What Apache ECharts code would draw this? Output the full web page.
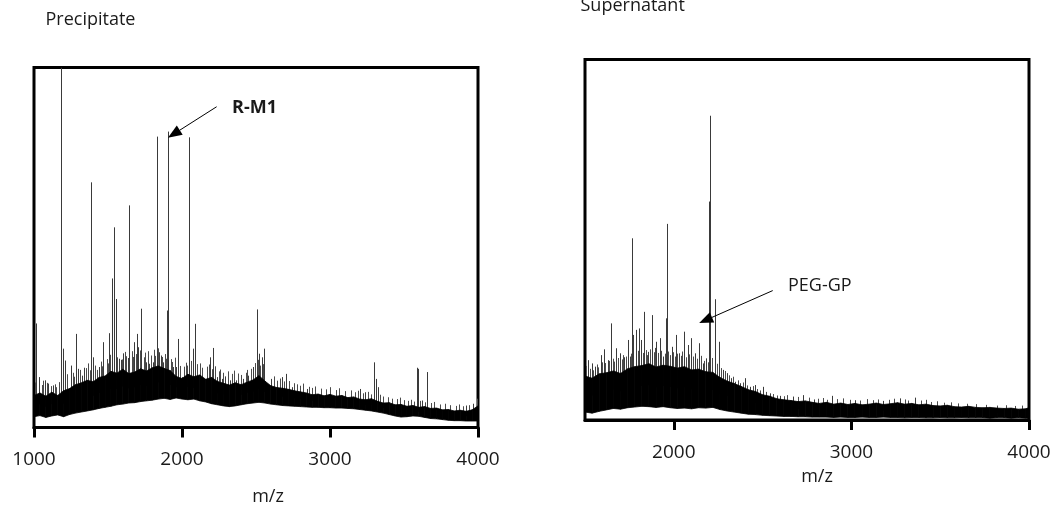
<!DOCTYPE html>
<html>
<head>
<meta charset="utf-8">
<script src="https://cdn.jsdelivr.net/npm/echarts@6/dist/echarts.min.js"></script>
<style>
  html, body { margin: 0; padding: 0; background: #fff; }
  #chart { width: 1054px; height: 512px; }
</style>
</head>
<body>
<div id="chart"></div>
<script>
// MALDI-TOF mass spectra of the precipitate and supernatant fractions (relative intensity, 0-100)

const precipitateTicks = [1000, 2000, 3000, 4000];
const supernatantTicks = [2000, 3000, 4000];

// Noise band of the precipitate spectrum: m/z grid with lower and upper edge of the band
const precipitateBandMz = [1000,1040,1080,1120,1160,1200,1240,1280,1320,1360,1400,1440,1480,1520,1560,1600,1640,1680,1720,1760,1800,1840,1880,1920,1960,2000,2040,2080,2120,2160,2200,2240,2280,2320,2360,2400,2440,2480,2520,2560,2600,2640,2680,2720,2760,2800,2840,2880,2920,2960,3000,3040,3080,3120,3160,3200,3240,3280,3320,3360,3400,3440,3480,3520,3560,3600,3640,3680,3720,3760,3800,3840,3880,3920,3960,4000];
const precipitateBandLow = [3.0,3.3,2.8,3.2,3.5,3.0,3.6,4.0,4.3,4.6, 4.9,5.3,5.6,5.9,6.3,6.5,6.8,6.9,7.2,7.4, 7.6,7.9,8.1,7.8,8.2,7.9,7.7,7.9,7.4,7.1, 6.6,6.3,6.0,5.8,6.0,6.3,6.6,6.8,7.0,6.8, 6.5,6.3,6.1,6.0,5.9,5.8,5.7,5.6,5.6,5.5, 5.5,5.4,5.4,5.3,5.2,5.0,4.8,4.6,4.3,4.0, 3.6,3.2,2.9,3.0,3.2,3.1,2.8,2.5,2.4,2.2, 2.0,1.9,1.9,1.8,1.8,1.8];
const precipitateBandHigh = [8.9,9.6,8.7,9.8,8.9,10.2,10.8,11.9,12.4,13.1, 12.7,13.9,14.3,15.6,15.1,16.2,15.0,15.4,16.3,15.7, 16.6,17.1,16.4,15.8,14.2,13.6,14.8,14.1,14.6,13.4, 13.9,12.8,12.3,11.8,12.4,11.9,12.6,13.2,14.4,12.9, 11.6,11.1,10.9,10.6,10.2,9.9,9.6,9.1,9.3,8.8, 9.2,8.7,8.9,8.3,8.5,7.9,7.7,8.0,7.3,6.8, 6.9,6.3,6.4,5.9,6.1,5.6,5.8,5.3,5.4,4.9, 5.0,4.6,4.8,4.5,4.9,6.0];

// Resolved peaks of the precipitate spectrum [m/z, intensity]
const precipitatePeaks = [[1016,28.9],[1182,100],[1281,26.0],[1388,68.1],[1525,41.4],[1540,55.6],[1554,35.7],[1640,56.7],[1644,61.7],[1723,33.0],[1829,80.8],[1899,32.5],[1903,82.2],[1971,24.6],[2049,80.6],[2088,28.8],[2504,32.8]];
const precipitateMinorPeaks = [[1034,14.0],[1074,13.1],[1097,12.2],[1126,11.7],[1198,21.9],[1209,18.6],[1248,17.2],[1299,16.3],[1326,14.4],[1340,16.6],[1401,19.5],[1437,16.8],[1468,23.7],[1507,26.2],[1572,19.1],[1585,18.8],[1603,20.6],[1633,19.3],[1678,23.7],[1693,26.0],[1705,22.3],[1757,18.1],[1777,17.7],[1802,18.1],[1847,20.9],[1856,20.0],[1874,18.1],[1919,15.8],[1941,16.8],[1957,16.8],[1998,14.0],[2072,21.9],[2110,14.0],[2144,13.5],[2189,19.5],[2211,22.1],[2234,14.0],[2268,13.5],[2290,14.2],[2324,13.1],[2365,13.1],[2414,13.5],[2448,14.4],[2480,16.8],[2522,20.5],[2538,19.5],[2556,21.9],[2599,13.5],[2678,14.0],[2703,14.9],[2741,11.2],[2842,10.7],[3203,10.7],[3236,9.8],[3297,18.1],[3308,13.5],[3322,11.2],[3586,16.6],[3592,16.3],[3619,7.5],[3657,15.4],[3919,6.1],[3968,6.6]];
// Unresolved noise spikes just above the band
const precipitateNoiseSpikes = [[1008,12.5],[1052,11.8],[1062,13.0],[1088,12.4],[1112,11.5],[1140,12.0],[1152,11.2],[1170,12.6],[1226,14.8],[1262,15.2],[1272,14.1],[1312,16.0],[1352,16.5],[1365,17.8],[1378,15.9],[1414,17.2],[1425,16.0],[1452,18.3],[1460,17.0],[1490,19.0],[1498,17.8],[1516,20.2],[1564,19.5],[1596,18.9],[1612,21.0],[1622,19.8],[1660,21.2],[1668,19.6],[1686,20.4],[1714,21.4],[1740,19.5],[1748,20.8],[1768,21.2],[1790,20.0],[1812,21.6],[1820,19.9],[1838,22.0],[1866,19.6],[1884,20.4],[1892,19.1],[1928,19.0],[1935,18.2],[1950,19.4],[1984,17.1],[2012,16.9],[2024,18.0],[2036,17.2],[2060,18.5],[2098,17.6],[2124,17.8],[2134,16.6],[2170,16.9],[2180,17.5],[2200,16.2],[2222,17.0],[2250,15.6],[2258,16.1],[2280,15.2],[2310,15.6],[2340,14.9],[2350,15.8],[2380,15.0],[2396,14.6],[2430,15.2],[2440,16.0],[2466,16.3],[2492,17.9],[2512,18.8],[2530,17.2],[2548,17.6],[2620,14.2],[2640,13.0],[2660,13.6],[2690,12.8],[2720,12.9],[2760,12.3],[2780,12.0],[2800,11.6],[2820,12.2],[2860,11.3],[2880,11.0],[2900,11.4],[2940,10.8],[2970,10.6],[3000,11.2],[3040,10.4],[3060,10.9],[3100,10.1],[3140,10.3],[3170,9.8],[3190,10.2],[3220,9.5],[3260,9.9],[3280,9.2],[3340,9.1],[3360,8.6],[3390,8.4],[3420,8.0],[3450,7.9],[3470,8.3],[3500,7.6],[3530,7.4],[3550,7.7],[3570,7.2],[3610,7.4],[3640,7.0],[3680,6.8],[3700,7.1],[3740,6.4],[3780,6.6],[3810,6.2],[3850,6.0],[3870,6.4],[3900,5.9],[3940,6.2],[3990,8.0]];

// Noise band of the supernatant spectrum
const supernatantBandMz = [1500,1540,1580,1620,1660,1700,1740,1780,1820,1860,1900,1940,1980,2020,2060,2100,2140,2180,2220,2260,2300,2340,2380,2420,2460,2500,2540,2580,2620,2660,2700,2740,2780,2820,2860,2900,2940,2980,3020,3060,3100,3140,3180,3220,3260,3300,3340,3380,3420,3460,3500,3540,3580,3620,3660,3700,3740,3780,3820,3860,3900,3940,3980,4000];
const supernatantBandLow = [2.2,1.9,2.4,2.8,3.2,3.0,3.4,3.6,3.8,3.7, 3.5,3.7,3.4,3.2,3.3,3.1,3.4,3.3,3.5,2.9, 2.5,2.2,1.9,1.6,1.5,1.3,1.2,1.1,1.0,1.0, 0.9,0.9,0.8,0.8,0.8,0.7,0.8,0.7,0.7,0.8, 0.7,0.7,0.8,0.7,0.7,0.6,0.7,0.7,0.6,0.6, 0.7,0.6,0.6,0.7,0.6,0.6,0.6,0.5,0.6,0.6, 0.5,0.6,0.5,0.5];
const supernatantBandHigh = [12.2,11.6,12.8,13.1,13.6,12.9,14.2,14.8,15.1,15.6, 14.7,15.2,14.9,14.4,14.8,13.9,14.1,13.4,13.2,11.8, 10.8,10.1,9.3,8.4,7.9,7.0,6.6,5.9,5.6,5.4, 5.1,5.3,4.9,4.6,4.9,4.4,4.7,4.3,4.6,4.2, 4.4,4.7,4.3,4.5,4.8,4.4,4.6,4.2,4.4,4.0, 3.9,4.1,3.7,3.6,3.8,3.5,3.4,3.5,3.3,3.2, 3.3,3.0,3.1,3.4];

// Resolved peaks of the supernatant spectrum [m/z, intensity]
const supernatantPeaks = [[1648,26.8],[1766,50.4],[1956,28.2],[1960,54.4],[2198,60.6],[2204,84.4],[2232,33.5]];
const supernatantMinorPeaks = [[1519,16.6],[1538,15.7],[1556,14.8],[1588,18.0],[1607,19.6],[1628,16.6],[1675,19.9],[1697,18.5],[1722,17.4],[1744,22.2],[1753,17.6],[1772,23.6],[1787,25.0],[1804,25.4],[1815,22.2],[1832,30.0],[1857,18.9],[1877,29.1],[1900,21.7],[1922,22.7],[1941,17.6],[1988,20.3],[2012,23.6],[2031,18.5],[2057,24.5],[2078,20.8],[2099,22.7],[2119,18.5],[2142,21.3],[2163,15.7],[2181,17.1],[2256,21.7],[2279,13.9],[2298,13.0],[2320,11.6],[2345,10.6],[2373,10.2],[2401,11.6],[2429,9.2],[2457,9.7],[2500,9.2],[2542,7.4],[2598,6.7],[2673,6.5],[2729,6.9],[2789,5.7],[2889,6.7],[3020,5.5],[3179,5.3],[3274,6.0],[3358,6.2]];
const supernatantNoiseSpikes = [[1508,15.0],[1526,14.2],[1546,13.8],[1566,15.4],[1576,14.6],[1596,16.0],[1614,15.8],[1636,16.4],[1656,17.0],[1666,16.2],[1684,17.2],[1706,16.8],[1714,18.0],[1732,17.6],[1760,18.4],[1796,19.2],[1824,18.6],[1842,19.4],[1850,18.0],[1866,19.6],[1886,18.8],[1892,20.0],[1910,18.6],[1930,19.2],[1948,18.4],[1970,19.0],[1980,18.0],[1996,18.8],[2004,17.6],[2020,18.4],[2040,17.8],[2048,19.0],[2066,17.4],[2086,18.2],[2108,17.6],[2130,17.0],[2152,17.8],[2172,16.4],[2190,16.0],[2214,17.2],[2244,15.6],[2268,14.4],[2288,13.6],[2310,12.4],[2332,12.0],[2360,11.0],[2388,10.4],[2414,9.6],[2444,9.4],[2470,8.6],[2488,8.2],[2520,7.8],[2560,7.2],[2580,6.8],[2620,6.6],[2640,6.9],[2700,6.4],[2760,6.2],[2810,5.9],[2840,6.1],[2860,5.6],[2920,5.8],[2950,6.0],[2990,5.6],[3050,5.4],[3090,5.8],[3120,5.5],[3150,5.7],[3210,5.6],[3240,5.9],[3300,5.7],[3320,5.4],[3390,5.4],[3420,5.6],[3450,5.0],[3480,5.2],[3520,4.8],[3560,4.9],[3600,4.6],[3650,4.5],[3700,4.4],[3760,4.2],[3820,4.0],[3870,4.1],[3920,3.9],[3960,4.0]];

// Annotated species: arrow tail and arrow tip in [m/z, intensity]
const precipitateArrow = { label: 'R-M1', from: [2234, 89.1], to: [1905, 80.5] };
const supernatantArrow = { label: 'PEG-GP', from: [2557, 35.9], to: [2143, 26.9] };

const FONT = '"Open Sans", sans-serif';
const INK = '#1a1a1a';

// One quad of the noise band between two neighbouring grid points
function bandPiece(params, api) {
  const a0 = api.coord([api.value(0), api.value(1)]);
  const a1 = api.coord([api.value(0), api.value(2)]);
  const b0 = api.coord([api.value(3), api.value(4)]);
  const b1 = api.coord([api.value(3), api.value(5)]);
  return {
    type: 'polygon',
    shape: { points: [a0, a1, b1, b0] },
    style: { fill: '#000', stroke: '#000', lineWidth: 0.8 }
  };
}

// A peak: vertical stick from inside the noise band up to its intensity
function stickRenderer(color) {
  return function (params, api) {
    const top = api.coord([api.value(0), api.value(1)]);
    const bot = api.coord([api.value(0), api.value(2)]);
    const x = Math.round(top[0]) + 0.5;
    return {
      type: 'line',
      shape: { x1: x, y1: bot[1], x2: x, y2: top[1] },
      style: { stroke: color, lineWidth: 1 }
    };
  };
}

// Annotation arrow: line with a filled triangular head at the tip
function arrow(params, api) {
  const p0 = api.coord([api.value(0), api.value(1)]);
  const p1 = api.coord([api.value(2), api.value(3)]);
  const dx = p1[0] - p0[0], dy = p1[1] - p0[1];
  const len = Math.hypot(dx, dy), ux = dx / len, uy = dy / len;
  const headLen = 14, headHalf = 5.5;
  const bx = p1[0] - ux * headLen, by = p1[1] - uy * headLen;
  return {
    type: 'group',
    children: [
      { type: 'line', shape: { x1: p0[0], y1: p0[1], x2: bx, y2: by }, style: { stroke: '#000', lineWidth: 1 } },
      { type: 'polygon', shape: { points: [p1, [bx - uy * headHalf, by + ux * headHalf], [bx + uy * headHalf, by - ux * headHalf]] }, style: { fill: '#000' } }
    ]
  };
}

function bandData(xs, lo, hi) {
  const out = [];
  for (let i = 0; i < xs.length - 1; i++) out.push([xs[i], lo[i], hi[i], xs[i + 1], lo[i + 1], hi[i + 1]]);
  return out;
}

// stick base: inside the band at the nearest grid point
function sticks(peaks, xs, lo, hi) {
  return peaks.map(([mz, v]) => {
    let k = 0;
    for (let i = 1; i < xs.length; i++) if (Math.abs(xs[i] - mz) < Math.abs(xs[k] - mz)) k = i;
    return [mz, v, (lo[k] + hi[k]) / 2];
  });
}

function stickSeries(idx, data, color) {
  return { type: 'custom', xAxisIndex: idx, yAxisIndex: idx, renderItem: stickRenderer(color), silent: true, clip: true, z: 2,
    data: data, encode: { x: 0, y: 1 } };
}

function panelSeries(idx, xs, lo, hi, peaks, minor, noise, arr) {
  return [
    stickSeries(idx, sticks(noise, xs, lo, hi), '#4a4a4a'),
    stickSeries(idx, sticks(minor, xs, lo, hi), '#3a3a3a'),
    stickSeries(idx, sticks(peaks, xs, lo, hi), '#3a3a3a'),
    { type: 'custom', xAxisIndex: idx, yAxisIndex: idx, renderItem: bandPiece, silent: true, clip: true, z: 3,
      data: bandData(xs, lo, hi), encode: { x: [0, 3], y: [1, 2] } },
    { type: 'custom', xAxisIndex: idx, yAxisIndex: idx, renderItem: arrow, silent: true, z: 4,
      data: [[arr.from[0], arr.from[1], arr.to[0], arr.to[1]]], encode: { x: [0, 2], y: [1, 3] } }
  ];
}

function xAxis(idx, min, ticks) {
  return {
    type: 'value', gridIndex: idx, min: min, max: 4000,
    axisLine: { show: true, onZero: false, lineStyle: { color: '#000', width: 3 } },
    axisTick: { show: true, inside: false, length: 10, lineStyle: { color: '#000', width: 3 }, customValues: ticks },
    axisLabel: { show: true, margin: 23, fontFamily: FONT, fontSize: 19, color: INK, customValues: ticks,
      formatter: v => String(v) },
    splitLine: { show: false }
  };
}

function yAxis(idx) {
  return { type: 'value', gridIndex: idx, min: 0, max: 100, show: false, splitLine: { show: false } };
}

const chart = echarts.init(document.getElementById('chart'), null, { renderer: 'canvas' });

chart.setOption({
  animation: false,
  backgroundColor: '#fff',
  grid: [
    { left: 34, top: 67.5, width: 444, height: 360, show: true, borderColor: '#000', borderWidth: 3, backgroundColor: 'transparent' },
    { left: 585, top: 59.5, width: 444, height: 360.5, show: true, borderColor: '#000', borderWidth: 3, backgroundColor: 'transparent' }
  ],
  xAxis: [xAxis(0, 1000, precipitateTicks), xAxis(1, 1500, supernatantTicks)],
  yAxis: [yAxis(0), yAxis(1)],
  series: [
    ...panelSeries(0, precipitateBandMz, precipitateBandLow, precipitateBandHigh, precipitatePeaks, precipitateMinorPeaks, precipitateNoiseSpikes, precipitateArrow),
    ...panelSeries(1, supernatantBandMz, supernatantBandLow, supernatantBandHigh, supernatantPeaks, supernatantMinorPeaks, supernatantNoiseSpikes, supernatantArrow)
  ],
  graphic: [
    { type: 'text', x: 45.5, y: 29, style: { text: 'Precipitate', font: '18px ' + FONT, fill: INK, verticalAlign: 'bottom' } },
    { type: 'text', x: 580.5, y: 14.5, style: { text: 'Supernatant', font: '18px ' + FONT, fill: INK, verticalAlign: 'bottom' } },
    { type: 'text', x: 268, y: 497, style: { text: 'm/z', font: '18px ' + FONT, fill: INK, align: 'center', verticalAlign: 'middle' } },
    { type: 'text', x: 817, y: 477, style: { text: 'm/z', font: '18px ' + FONT, fill: INK, align: 'center', verticalAlign: 'middle' } },
    { type: 'text', x: 232, y: 108, style: { text: precipitateArrow.label, font: 'bold 18px ' + FONT, fill: INK, verticalAlign: 'middle' } },
    { type: 'text', x: 788, y: 286, style: { text: supernatantArrow.label, font: '18px ' + FONT, fill: INK, verticalAlign: 'middle' } }
  ]
});
</script>
</body>
</html>
